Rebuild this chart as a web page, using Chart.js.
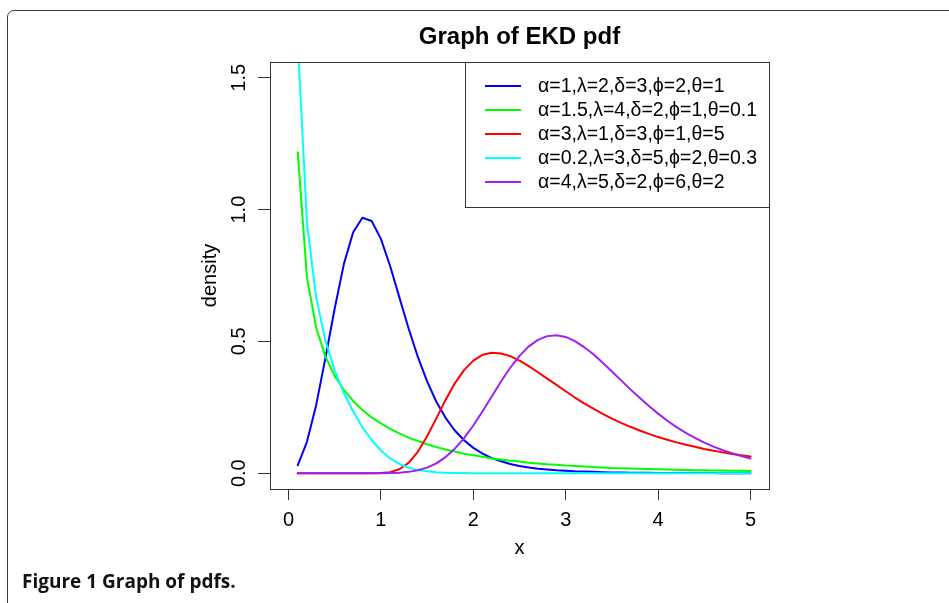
<!DOCTYPE html>
<html>
<head>
<meta charset="utf-8">
<title>Graph of EKD pdf</title>
<script src="https://cdn.jsdelivr.net/npm/chart.js@4.4.1/dist/chart.umd.min.js"></script>
<style>
  html, body { margin: 0; padding: 0; background: #fff; overflow: hidden; }
  #wrap { position: relative; width: 949px; height: 603px; overflow: hidden; }
  #frame { position: absolute; left: 7px; top: 10px; width: 1000px; height: 700px;
           border: 1px solid #3c3c3c; border-radius: 7px; }
  #chart { position: absolute; left: 0; top: 0; }
  #caption { position: absolute; left: 22px; top: 568px; line-height: 19px;
             font: bold 19px "Open Sans", sans-serif; color: #111; white-space: nowrap; }
</style>
</head>
<body>
<div id="wrap">
  <div id="frame"></div>
  <canvas id="chart" width="949" height="603"></canvas>
  <div id="caption">Figure 1 Graph of pdfs.</div>
</div>
<script>
// x grid shared by all five densities
const xs = [
  0.1, 0.2, 0.3, 0.4, 0.5, 0.6, 0.7, 0.8, 0.9, 1.0,
  1.1, 1.2, 1.3, 1.4, 1.5, 1.6, 1.7, 1.8, 1.9, 2.0,
  2.1, 2.2, 2.3, 2.4, 2.5, 2.6, 2.7, 2.8, 2.9, 3.0,
  3.1, 3.2, 3.3, 3.4, 3.5, 3.6, 3.7, 3.8, 3.9, 4.0,
  4.1, 4.2, 4.3, 4.4, 4.5, 4.6, 4.7, 4.8, 4.9, 5.0
];

const pdfBlue = [
  0.030, 0.119, 0.259, 0.437, 0.625, 0.794, 0.914, 0.969, 0.957, 0.889,
  0.786, 0.667, 0.549, 0.441, 0.348, 0.271, 0.210, 0.162, 0.125, 0.096,
  0.074, 0.057, 0.045, 0.035, 0.027, 0.022, 0.017, 0.014, 0.011, 0.009,
  0.007, 0.006, 0.005, 0.004, 0.003, 0.003, 0.002, 0.002, 0.002, 0.001,
  0.001, 0.001, 0.001, 0.001, 0.001, 0.001, 0.000, 0.000, 0.000, 0.000
];
const pdfGreen = [
  1.218, 0.743, 0.552, 0.442, 0.369, 0.316, 0.274, 0.240, 0.212, 0.189,
  0.168, 0.151, 0.135, 0.122, 0.110, 0.099, 0.090, 0.082, 0.074, 0.068,
  0.062, 0.056, 0.052, 0.047, 0.044, 0.040, 0.037, 0.034, 0.032, 0.029,
  0.027, 0.025, 0.023, 0.022, 0.020, 0.019, 0.018, 0.017, 0.016, 0.015,
  0.014, 0.013, 0.012, 0.011, 0.011, 0.010, 0.010, 0.009, 0.009, 0.008
];
const pdfRed = [
  0.000, 0.000, 0.000, 0.000, 0.000, 0.000, 0.000, 0.000, 0.000, 0.001,
  0.004, 0.015, 0.039, 0.081, 0.140, 0.208, 0.278, 0.341, 0.391, 0.427,
  0.449, 0.457, 0.454, 0.444, 0.427, 0.406, 0.383, 0.359, 0.335, 0.311,
  0.287, 0.265, 0.245, 0.225, 0.207, 0.191, 0.176, 0.162, 0.149, 0.137,
  0.127, 0.117, 0.108, 0.100, 0.092, 0.085, 0.079, 0.073, 0.068, 0.063
];
const pdfCyan = [
  1.642, 0.949, 0.667, 0.502, 0.389, 0.304, 0.234, 0.175, 0.126, 0.086,
  0.056, 0.035, 0.021, 0.012, 0.007, 0.004, 0.002, 0.001, 0.001, 0.000,
  0.000, 0.000, 0.000, 0.000, 0.000, 0.000, 0.000, 0.000, 0.000, 0.000,
  0.000, 0.000, 0.000, 0.000, 0.000, 0.000, 0.000, 0.000, 0.000, 0.000,
  0.000, 0.000, 0.000, 0.000, 0.000, 0.000, 0.000, 0.000, 0.000, 0.000
];
const pdfPurple = [
  0.000, 0.000, 0.000, 0.000, 0.000, 0.000, 0.000, 0.000, 0.000, 0.000,
  0.001, 0.002, 0.005, 0.011, 0.021, 0.037, 0.061, 0.093, 0.133, 0.181,
  0.235, 0.291, 0.348, 0.400, 0.445, 0.481, 0.506, 0.520, 0.523, 0.517,
  0.501, 0.478, 0.451, 0.419, 0.386, 0.352, 0.318, 0.286, 0.255, 0.226,
  0.199, 0.175, 0.153, 0.134, 0.116, 0.101, 0.087, 0.076, 0.065, 0.056
];

const seriesLabels = [
  'α=1,λ=2,δ=3,ϕ=2,θ=1',
  'α=1.5,λ=4,δ=2,ϕ=1,θ=0.1',
  'α=3,λ=1,δ=3,ϕ=1,θ=5',
  'α=0.2,λ=3,δ=5,ϕ=2,θ=0.3',
  'α=4,λ=5,δ=2,ϕ=6,θ=2'
];
const seriesColors = ['#0000ff', '#00ff00', '#ff0000', '#00ffff', '#a020f0'];
const seriesValues = [pdfBlue, pdfGreen, pdfRed, pdfCyan, pdfPurple];

const xTicks = [0, 1, 2, 3, 4, 5];
const xTickLabels = ['0', '1', '2', '3', '4', '5'];
const yTicks = [0, 0.5, 1.0, 1.5];
const yTickLabels = ['0.0', '0.5', '1.0', '1.5'];

const FONT = '"Liberation Sans", Arial, sans-serif';
const AXIS = '#333';

// frame around the plotting region
const plotBox = {
  id: 'plotBox',
  afterDatasetsDraw(chart) {
    const { ctx, chartArea: a } = chart;
    ctx.save();
    ctx.strokeStyle = AXIS;
    ctx.lineWidth = 1;
    ctx.strokeRect(a.left + 0.5, a.top + 0.5, a.width, a.height);
    ctx.restore();
  }
};

// boxed legend in the top right corner of the plot
const legendBox = {
  id: 'legendBox',
  afterDatasetsDraw(chart) {
    const { ctx, chartArea: a } = chart;
    const w = 304, h = 145;
    const left = a.right - w, top = a.top;
    ctx.save();
    ctx.fillStyle = '#fff';
    ctx.fillRect(left, top, w, h);
    ctx.strokeStyle = AXIS;
    ctx.lineWidth = 1;
    ctx.strokeRect(left + 0.5, top + 0.5, w, h);
    ctx.font = '19.5px ' + FONT;
    ctx.textBaseline = 'middle';
    ctx.textAlign = 'left';
    chart.data.datasets.forEach((ds, i) => {
      const y = top + 24 + i * 24;
      ctx.strokeStyle = ds.borderColor;
      ctx.lineWidth = 2;
      ctx.beginPath();
      ctx.moveTo(left + 20, y);
      ctx.lineTo(left + 56, y);
      ctx.stroke();
      ctx.fillStyle = '#000';
      ctx.fillText(ds.label, left + 73, y + 1);
    });
    ctx.restore();
  }
};

const datasets = seriesValues.map((vals, i) => ({
  label: seriesLabels[i],
  data: xs.map((x, j) => ({ x: x, y: vals[j] })),
  borderColor: seriesColors[i],
  backgroundColor: seriesColors[i],
  borderWidth: 2,
  pointRadius: 0,
  tension: 0,
  fill: false,
  clip: 0,
  borderCapStyle: 'round',
  borderJoinStyle: 'round',
  order: seriesValues.length - i
}));

new Chart(document.getElementById('chart'), {
  type: 'line',
  data: { datasets },
  options: {
    responsive: false,
    animation: false,
    devicePixelRatio: 1,
    events: [],
    layout: { padding: { left: 180, right: 180, top: 0, bottom: 0 } },
    plugins: {
      legend: { display: false },
      tooltip: { enabled: false },
      title: {
        display: true,
        fullSize: false,
        text: 'Graph of EKD pdf',
        color: '#000',
        font: { family: FONT, size: 24, weight: 'bold', lineHeight: 1.2 },
        padding: { top: 23, bottom: 10.2 }
      }
    },
    scales: {
      x: {
        type: 'linear',
        min: -0.2,
        max: 5.2,
        bounds: 'data',
        afterBuildTicks: s => { s.ticks = xTicks.map(v => ({ value: v })); },
        afterFit: s => { s.height = 114; },
        grid: { drawOnChartArea: false, drawTicks: true, tickLength: 11, color: AXIS, lineWidth: 1 },
        border: { display: false },
        ticks: {
          color: '#000',
          font: { family: FONT, size: 20 },
          padding: 8,
          maxRotation: 0,
          autoSkip: false,
          callback: (v, i) => xTickLabels[i]
        },
        title: {
          display: true,
          text: 'x',
          color: '#000',
          font: { family: FONT, size: 20 },
          padding: { bottom: 43 }
        }
      },
      y: {
        type: 'linear',
        min: -0.06,
        max: 1.56,
        bounds: 'data',
        afterBuildTicks: s => { s.ticks = yTicks.map(v => ({ value: v })); },
        afterFit: s => { s.width = 90; },
        grid: { drawOnChartArea: false, drawTicks: true, tickLength: 12, color: AXIS, lineWidth: 1 },
        border: { display: false },
        ticks: {
          color: '#000',
          font: { family: FONT, size: 20 },
          padding: 5,
          minRotation: 90,
          maxRotation: 90,
          crossAlign: 'center',
          autoSkip: false,
          callback: (v, i) => yTickLabels[i]
        },
        title: {
          display: true,
          text: 'density',
          color: '#000',
          font: { family: FONT, size: 20 },
          padding: { top: 18 }
        }
      }
    }
  },
  plugins: [plotBox, legendBox]
});
</script>
</body>
</html>
